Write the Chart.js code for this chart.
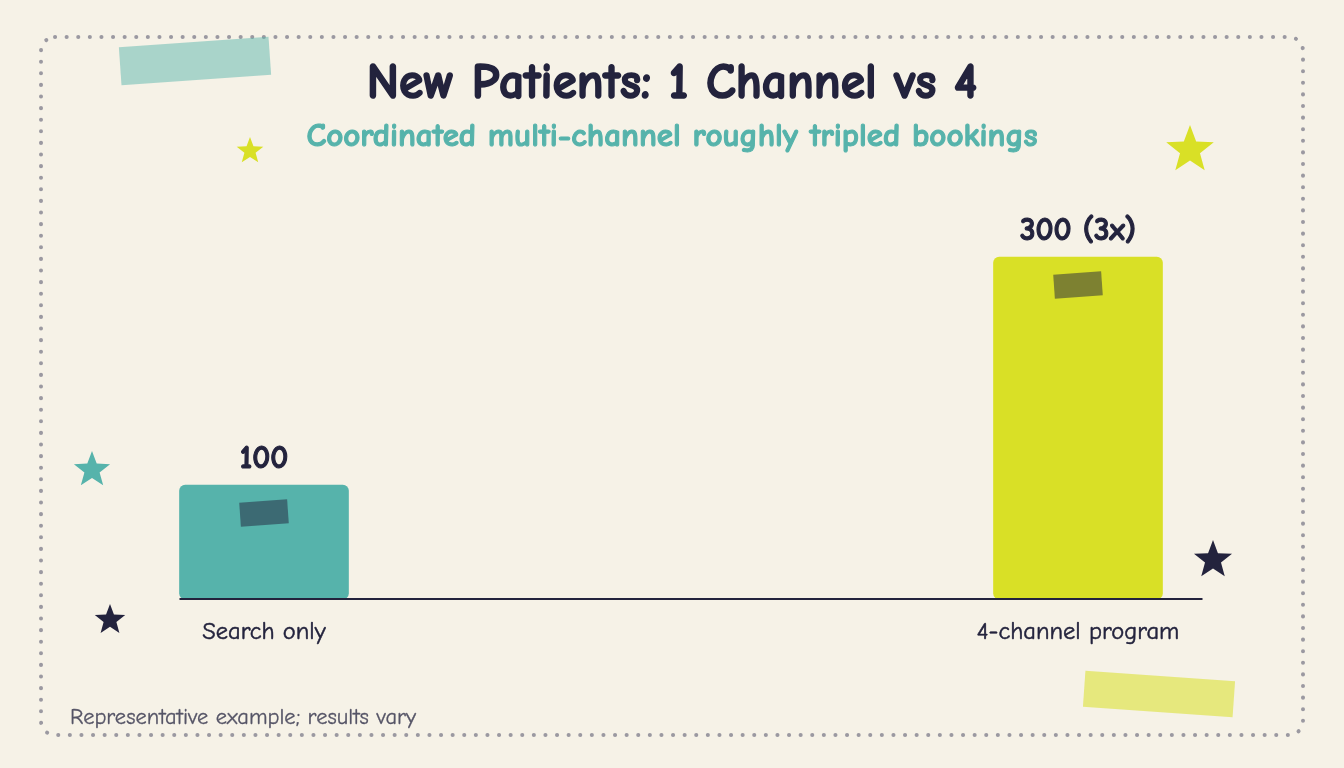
<!DOCTYPE html>
<html>
<head>
<meta charset="utf-8">
<script src="https://cdn.jsdelivr.net/npm/chart.js@4.4.1/dist/chart.umd.min.js"></script>
<style>
  html, body { margin: 0; padding: 0; background: #f6f2e7; }
  #wrap { width: 1344px; height: 768px; position: relative; }
</style>
</head>
<body>
<div id="wrap"><canvas id="chart" width="1344" height="768"></canvas></div>
<script>
// chart data
const categories = ['Search only', '4-channel program'];
const patients = [100, 300];
const valueLabels = ['100', '300 (3x)'];
const barColors = ['#56b3ab', '#d9e026'];

const FONT = '"Comic Neue", "Comic Sans MS", "DejaVu Sans", sans-serif';
const INK = '#23233d';

function star(ctx, cx, cy, r, color) {
    ctx.save();
    ctx.beginPath();
    for (let i = 0; i < 10; i++) {
        const rad = i % 2 === 0 ? r : r * 0.42;
        const a = -Math.PI / 2 + i * Math.PI / 5;
        ctx.lineTo(cx + rad * Math.cos(a), cy + rad * Math.sin(a));
    }
    ctx.closePath();
    ctx.fillStyle = color;
    ctx.fill();
    ctx.restore();
}

function tape(ctx, cx, cy, w, h, angle, color) {
    ctx.save();
    ctx.translate(cx, cy);
    ctx.rotate(angle * Math.PI / 180);
    ctx.fillStyle = color;
    ctx.fillRect(-w / 2, -h / 2, w, h);
    ctx.restore();
}

// fill text, with a thin outline in the same colour to make it heavier
function heavyText(ctx, text, x, y, color, weight) {
    ctx.fillStyle = color;
    ctx.fillText(text, x, y);
    if (weight) {
        ctx.strokeStyle = color;
        ctx.lineWidth = weight;
        ctx.lineJoin = 'round';
        ctx.strokeText(text, x, y);
    }
}

// background, frame, stickers
const decor = {
    id: 'decor',
    beforeDraw(chart) {
        const ctx = chart.ctx;
        ctx.save();
        ctx.fillStyle = '#f6f2e7';
        ctx.fillRect(0, 0, chart.width, chart.height);

        ctx.beginPath();
        ctx.roundRect(41, 37, 1262, 698, 14);
        ctx.setLineDash([0.1, 11.5]);
        ctx.lineCap = 'round';
        ctx.lineWidth = 4;
        ctx.strokeStyle = '#9b99a1';
        ctx.stroke();
        ctx.setLineDash([]);

        tape(ctx, 195, 61, 150, 38, -4, 'rgba(86,179,171,0.48)');
        tape(ctx, 1159, 694, 150, 36, 4, 'rgba(217,224,38,0.55)');
        ctx.restore();
    },
    afterDraw(chart) {
        const ctx = chart.ctx;
        ctx.save();
        ctx.textAlign = 'center';
        ctx.textBaseline = 'middle';
        ctx.font = 'bold 49.5px ' + FONT;
        heavyText(ctx, 'New Patients: 1 Channel vs 4', 672, 84, INK, 1.6);
        ctx.font = 'bold 33px ' + FONT;
        heavyText(ctx, 'Coordinated multi-channel roughly tripled bookings', 672, 137, '#56b3ab', 1.1);

        ctx.textAlign = 'left';
        ctx.font = '22.5px ' + FONT;
        heavyText(ctx, 'Representative example; results vary', 70, 718, '#555466', 0.3);

        star(ctx, 250, 151, 14, '#d9e026');
        star(ctx, 1190, 150, 25, '#d9e026');
        star(ctx, 92, 470, 19, '#56b3ab');
        star(ctx, 110, 620, 16, INK);
        star(ctx, 1213, 560, 20, INK);
        ctx.restore();
    }
};

// axis line, tape on bars, value labels and category labels
const barText = {
    id: 'barText',
    afterDatasetsDraw(chart) {
        const ctx = chart.ctx;
        const meta = chart.getDatasetMeta(0);
        const x = chart.scales.x;
        const base = chart.scales.y.getPixelForValue(0);
        const first = meta.data[0], last = meta.data[meta.data.length - 1];
        ctx.save();
        ctx.strokeStyle = INK;
        ctx.lineWidth = 2;
        ctx.beginPath();
        ctx.moveTo(first.x - first.width / 2, base);
        ctx.lineTo(last.x + last.width / 2 + 40, base);
        ctx.stroke();

        meta.data.forEach((bar, i) => {
            tape(ctx, bar.x, bar.y + 28, 48, 24, -4, 'rgba(34,34,59,0.5)');
            ctx.textAlign = 'center';
            ctx.textBaseline = 'middle';
            ctx.font = 'bold 31.5px ' + FONT;
            heavyText(ctx, valueLabels[i], bar.x, bar.y - 26, INK, 1.1);
            ctx.font = '24.5px ' + FONT;
            heavyText(ctx, categories[i], x.getPixelForValue(i), base + 33, INK, 0.5);
        });
        ctx.restore();
    }
};

new Chart(document.getElementById('chart'), {
    type: 'bar',
    data: {
        labels: categories,
        datasets: [{
            data: patients,
            backgroundColor: barColors,
            barThickness: 169,
            borderRadius: 6,
            borderSkipped: false,
            clip: false
        }]
    },
    options: {
        responsive: false,
        animation: false,
        layout: { padding: { left: 264, right: 266, top: 200, bottom: 169 } },
        plugins: { legend: { display: false }, tooltip: { enabled: false } },
        scales: {
            x: { display: false, offset: false },
            y: { display: false, min: 0, max: 350 }
        }
    },
    plugins: [decor, barText]
});
</script>
</body>
</html>
